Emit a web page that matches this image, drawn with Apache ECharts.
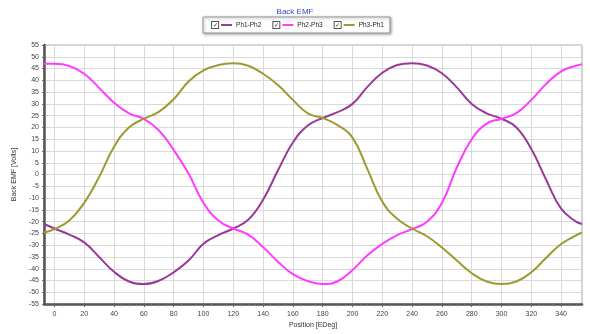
<!DOCTYPE html>
<html>
<head>
	<meta charset="utf-8">
	<title>Back EMF</title>
	<script src="https://cdn.jsdelivr.net/npm/echarts@6/dist/echarts.min.js"></script>
	<style>
		html, body { margin: 0; padding: 0; background: #fff; }
		#main { width: 590px; height: 334px; }
	</style>
</head>
<body>
	<div id="main"></div>
	<script type="text/javascript">
		// position in electrical degrees
		var pos = [-7, 0, 10, 20, 30, 40, 50, 60, 70, 80, 90, 100, 110, 120, 130, 140, 150, 160, 170, 180,
			190, 200, 210, 220, 230, 240, 250, 260, 270, 280, 290, 300, 310, 320, 330, 340, 350, 354];

		var ph1ph2 = [-21, -22.9, -25.5, -28.8, -35, -41.3, -45.4, -46.5, -45.1, -41.5, -36.5, -29.4, -25.7, -22.9, -19.2, -10.7, 1.8, 13.6, 20.8, 24,
			26.5, 30, 37.2, 43.2, 46.5, 47.3, 46.3, 43, 37, 30, 26, 23.7, 20, 10.8, -2.3, -14.5, -20, -21];
		var ph2ph3 = [47, 47, 46.1, 42.8, 36.8, 30.5, 26, 23.6, 18.8, 10.5, 0.4, -12, -19.5, -22.9, -25.5, -30.8, -37, -42.3, -45.2, -46.5,
			-45.3, -40.5, -34.3, -29.4, -25.7, -23.2, -20, -12, 3, 15, 21.6, 23.7, 26.1, 31.7, 38.5, 43.8, 46.2, 46.8];
		var ph3ph1 = [-24.6, -23.2, -19.5, -12, -1, 11.8, 20, 23.7, 26.6, 32, 39.5, 44.2, 46.5, 47.2, 46.2, 42.8, 38, 31.7, 26, 24,
			21, 15.7, 2.3, -11.5, -18.8, -22.9, -26.2, -31, -36.5, -41.9, -45.4, -46.5, -45.4, -41.5, -35.3, -29.5, -25.8, -24.6];

		var seriesNames = ['Ph1-Ph2', 'Ph2-Ph3', 'Ph3-Ph1'];
		var seriesColors = ['#993a99', '#ff3cff', '#9c9a30'];
		var xTickLabels = [0, 20, 40, 60, 80, 100, 120, 140, 160, 180, 200, 220, 240, 260, 280, 300, 320, 340];

		var xMin = -7, xMax = 354;

		// small ticks every 5 degrees between the labelled ones
		var minorTicks = [];
		for (var t = -5; t <= 350; t += 5) {
			if (t % 20 !== 0) minorTicks.push(t);
		}

		function pairs(ys) {
			return pos.map(function (x, i) { return [x, ys[i]]; });
		}

		var allValues = [ph1ph2, ph2ph3, ph3ph1];
		var font = 'Liberation Sans, Arial, sans-serif';

		var series = seriesNames.map(function (name, i) {
			return {
				name: name,
				type: 'line',
				smooth: 0.45,
				showSymbol: false,
				xAxisIndex: 0,
				data: pairs(allValues[i]),
				lineStyle: { color: seriesColors[i], width: 2 },
				itemStyle: { color: seriesColors[i] }
			};
		});

		var rich = {
			cb: {
				width: 6, height: 6, lineHeight: 7, fontSize: 6, align: 'center',
				color: '#222', borderColor: '#555', borderWidth: 1, backgroundColor: '#fff'
			},
			sp: { width: 3 },
			t: { fontSize: 6.5, color: '#222', fontFamily: font, padding: [0, 0, 0, 4] }
		};
		seriesNames.forEach(function (n, i) {
			rich['l' + i] = { width: 11, height: 2, backgroundColor: seriesColors[i] };
		});

		var myChart = echarts.init(document.getElementById('main'));

		var option = {
			backgroundColor: '#fff',
			animation: false,
			textStyle: { fontFamily: font },
			title: {
				text: 'Back EMF',
				left: 'center',
				top: 3,
				textStyle: { fontSize: 8, fontWeight: 'normal', color: '#3344cc', fontFamily: font }
			},
			legend: {
				top: 17,
				left: 'center',
				itemWidth: 0,
				itemHeight: 0,
				itemGap: 6,
				padding: [2, 6, 2, 3],
				borderColor: '#999',
				borderWidth: 1,
				backgroundColor: '#fff',
				shadowBlur: 3,
				shadowColor: 'rgba(0,0,0,0.35)',
				shadowOffsetX: 1,
				shadowOffsetY: 1,
				data: seriesNames,
				formatter: function (name) {
					var i = seriesNames.indexOf(name);
					return '{cb|✓}{sp|}{l' + i + '|}{t|' + name + '}';
				},
				textStyle: { rich: rich }
			},
			grid: {
				left: 44,
				right: 8,
				top: 45,
				bottom: 24,
				show: true,
				borderColor: '#a8a8a8',
				borderWidth: 1,
				containLabel: false
			},
			xAxis: [{
				type: 'value',
				min: xMin,
				max: xMax,
				name: 'Position [EDeg]',
				nameLocation: 'middle',
				nameGap: 15,
				nameTextStyle: { fontSize: 7, color: '#333', fontFamily: font },
				axisLine: { onZero: false, lineStyle: { color: '#555', width: 2.5 } },
				axisTick: { customValues: xTickLabels, length: 3, lineStyle: { color: '#666' } },
				axisLabel: { customValues: xTickLabels, fontSize: 7, color: '#444', margin: 6 },
				splitLine: { show: true, lineStyle: { color: '#d9d9d9', width: 1 } }
			}, {
				type: 'value',
				min: xMin,
				max: xMax,
				position: 'bottom',
				axisLine: { show: false, onZero: false },
				axisLabel: { show: false },
				splitLine: { show: false },
				axisTick: { customValues: minorTicks, length: 2, lineStyle: { color: '#777' } }
			}],
			yAxis: {
				type: 'value',
				min: -55,
				max: 55,
				interval: 5,
				name: 'Back EMF [Volts]',
				nameLocation: 'middle',
				nameGap: 23,
				nameTextStyle: { fontSize: 7, color: '#333', fontFamily: font },
				axisLine: { onZero: false, lineStyle: { color: '#555', width: 2.5 } },
				axisTick: { length: 2, lineStyle: { color: '#666' } },
				axisLabel: { fontSize: 7, color: '#444', margin: 5 },
				splitLine: { show: true, lineStyle: { color: '#d9d9d9', width: 1 } }
			},
			series: series
		};

		myChart.setOption(option);
	</script>
</body>
</html>
